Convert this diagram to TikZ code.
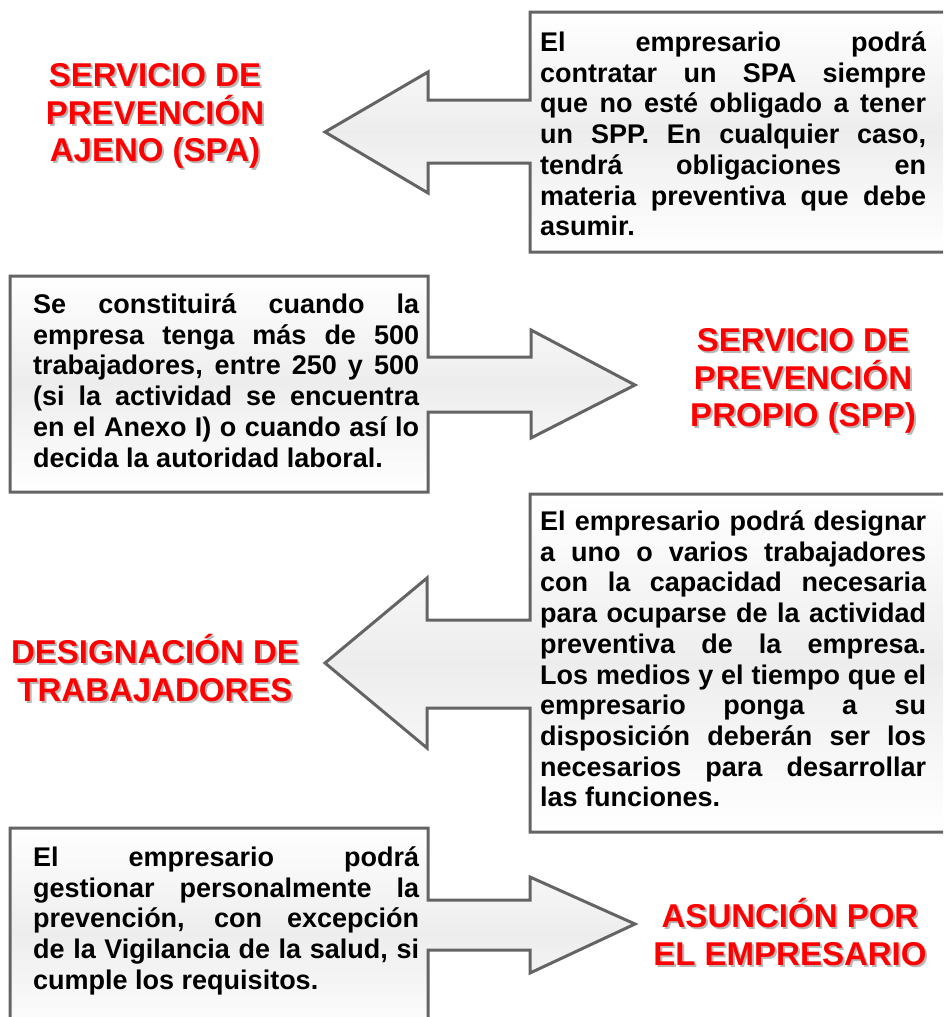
\documentclass[tikz,border=0pt]{standalone}
\usepackage{fontspec}
\setmainfont{Liberation Sans}
\definecolor{edgegray}{HTML}{646464}
\definecolor{titlered}{HTML}{FF0000}
\newlength{\tw}
\setlength{\tw}{386pt}
\newcommand{\jline}[1]{\makebox[\tw][s]{#1}}
\newcommand{\lline}[1]{\makebox[\tw][l]{#1}}
\tikzset{
  callout/.style={draw=edgegray, line width=3pt, line join=miter, top color=white, bottom color=white, middle color=black!7},
  body/.style={anchor=base west, inner sep=0pt, font=\bfseries\fontsize{27}{30.7}\selectfont},
  title/.style={anchor=base, inner sep=0pt, text=titlered, font=\bfseries\fontsize{33}{37.5}\selectfont},
  titleshadow/.style={title, text=black!28}
}
\newcommand{\ttl}[4]{%
  \node[titleshadow] (#1s) at (#2+2,#3+2) {\parbox[t]{340pt}{\centering #4}};
  \node[title] (#1) at (#2,#3) {\parbox[t]{340pt}{\centering #4}};}
\begin{document}
\begin{tikzpicture}[x=1pt,y=-1pt]
\useasboundingbox (0,0) rectangle (943,1017);
\fill[white] (0,0) rectangle (943,1017);
\clip (0,0) rectangle (943,1017);

% shape 1: box right, arrow left
\path[callout] (530,12) -- (955,12) -- (955,252) -- (530,252) -- (530,163) -- (428,163) -- (428,193) -- (325,132) -- (428,72) -- (428,100) -- (530,100) -- cycle;
% shape 2: box left, arrow right
\path[callout] (10,276) -- (428,276) -- (428,357) -- (531,357) -- (531,330) -- (635,385) -- (531,438) -- (531,412) -- (428,412) -- (428,492) -- (10,492) -- cycle;
% shape 3: box right, arrow left
\path[callout] (530,494) -- (955,494) -- (955,832) -- (530,832) -- (530,708) -- (427,708) -- (427,748) -- (325,663) -- (427,578) -- (427,620) -- (530,620) -- cycle;
% shape 4: box left, arrow right
\path[callout] (10,828) -- (428,828) -- (428,900) -- (530,900) -- (530,877) -- (635,924) -- (530,973) -- (530,950) -- (428,950) -- (428,1040) -- (10,1040) -- cycle;

% body texts
\node[body] (t1) at (540,51.5) {\parbox[t]{\tw}{%
\jline{El empresario podrá}\\
\jline{contratar un SPA siempre}\\
\jline{que no esté obligado a tener}\\
\jline{un SPP. En cualquier caso,}\\
\jline{tendrá obligaciones en}\\
\jline{materia preventiva que debe}\\
\lline{asumir.}}};

\node[body] (t2) at (33,313.5) {\parbox[t]{\tw}{%
\jline{Se constituirá cuando la}\\
\jline{empresa tenga más de 500}\\
\jline{trabajadores, entre 250 y 500}\\
\jline{(si la actividad se encuentra}\\
\jline{en el Anexo I) o cuando así lo}\\
\lline{decida la autoridad laboral.}}};

\node[body] (t3) at (540,530.5) {\parbox[t]{\tw}{%
\jline{El empresario podrá designar}\\
\jline{a uno o varios trabajadores}\\
\jline{con la capacidad necesaria}\\
\jline{para ocuparse de la actividad}\\
\jline{preventiva de la empresa.}\\
\jline{Los medios y el tiempo que el}\\
\jline{empresario ponga a su}\\
\jline{disposición deberán ser los}\\
\jline{necesarios para desarrollar}\\
\lline{las funciones.}}};

\node[body] (t4) at (33,866.5) {\parbox[t]{\tw}{%
\jline{El empresario podrá}\\
\jline{gestionar personalmente la}\\
\jline{prevención, con excepción}\\
\jline{de la Vigilancia de la salud, si}\\
\lline{cumple los requisitos.}}};

% titles
\ttl{spa}{155}{86.5}{SERVICIO DE\\PREVENCIÓN\\AJENO (SPA)}
\ttl{spp}{803}{351.5}{SERVICIO DE\\PREVENCIÓN\\PROPIO (SPP)}
\ttl{dt}{155}{663.5}{DESIGNACIÓN DE\\TRABAJADORES}
\ttl{ae}{790}{927.5}{ASUNCIÓN POR\\EL EMPRESARIO}
\end{tikzpicture}
\end{document}
